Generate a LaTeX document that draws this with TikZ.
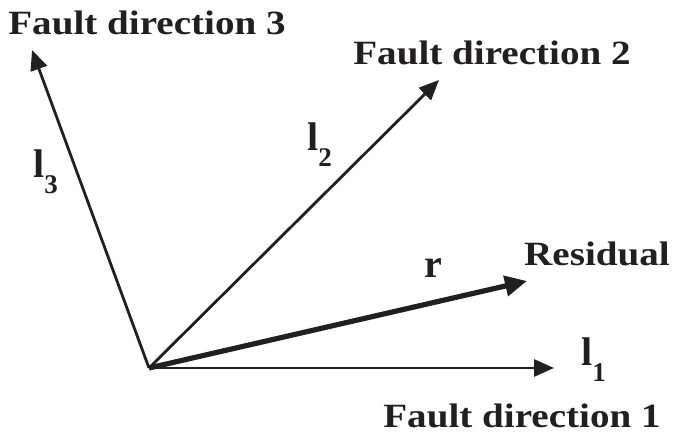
\documentclass[tikz,border=0pt]{standalone}
\usepackage{fontspec}
\setmainfont{Liberation Serif}
\newfontfamily\widefont{Liberation Serif}[FakeStretch=1.15]
\usetikzlibrary{arrows.meta}
\definecolor{ink}{HTML}{231F20}
\tikzset{
  vec/.style={draw=ink, line width=2.8pt, -{Triangle[length=20pt,width=17pt]}},
  resvec/.style={draw=ink, line width=5.2pt, -{Triangle[length=22pt,width=20pt]}},
  title/.style={inner sep=0pt, anchor=base, text=ink, font=\widefont\bfseries\fontsize{34}{34}\selectfont},
  lab/.style={inner sep=0pt, anchor=base west, text=ink, font=\bfseries\fontsize{40}{40}\selectfont},
}
\newcommand{\lsub}[1]{l\raisebox{-16pt}{\fontsize{27}{27}\selectfont #1}}
\begin{document}
\begin{tikzpicture}[x=1pt,y=-1pt]
\useasboundingbox (0,0) rectangle (677,441);
\coordinate (O) at (149,368);
\coordinate (t1) at (554,368);
\coordinate (t2) at (439,80);
\coordinate (t3) at (32,50);
\coordinate (tr) at (527,281);
\draw[vec] (O) -- (t1);
\draw[vec] (O) -- (t2);
\draw[vec] (O) -- (t3);
\draw[resvec] (O) -- (tr);
\node[title] (fd3) at (147,35) {Fault direction 3};
\node[title] (fd2) at (492,65) {Fault direction 2};
\node[title] (res) at (597,265) {Residual};
\node[title] (fd1) at (522,427) {Fault direction 1};
\node[lab] (l1) at (581,365) {\lsub{1}};
\node[lab] (l2) at (307,150) {\lsub{2}};
\node[lab] (l3) at (33,177) {\lsub{3}};
\node[lab] (r) at (424,277) {r};
\end{tikzpicture}
\end{document}
